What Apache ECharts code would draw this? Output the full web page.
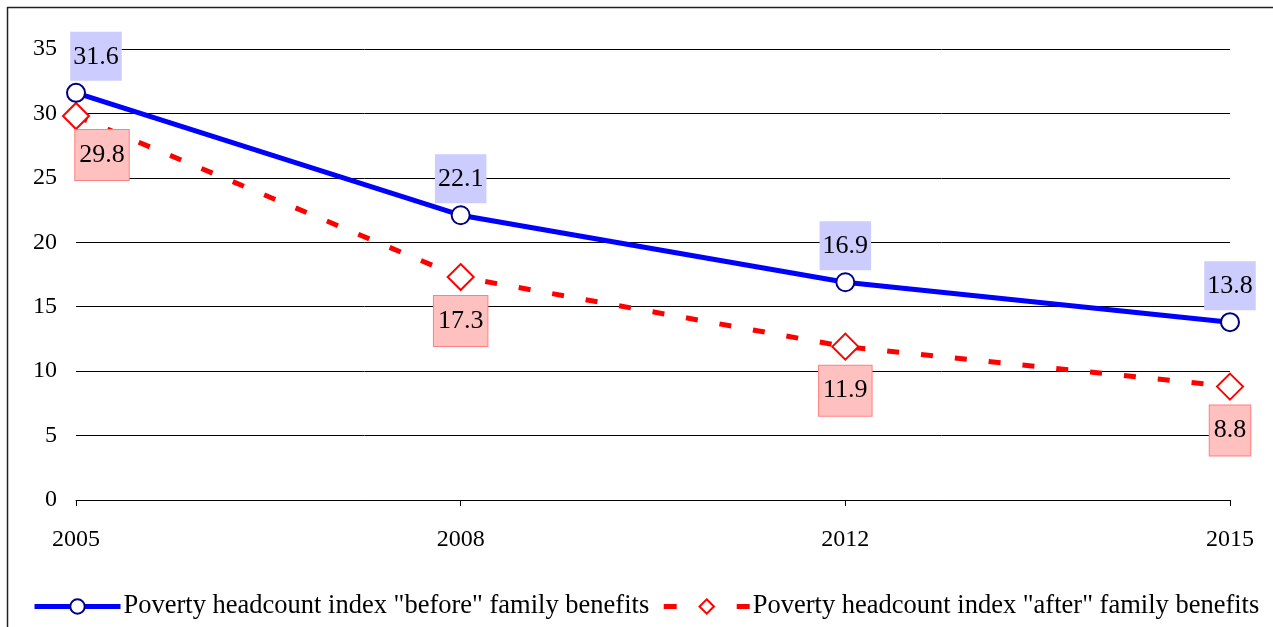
<!DOCTYPE html>
<html>
<head>
<meta charset="utf-8">
<script src="https://cdn.jsdelivr.net/npm/echarts@6/dist/echarts.min.js"></script>
<style>
  html, body { margin: 0; padding: 0; background: #fff; }
  #chart { width: 1273px; height: 627px; }
</style>
</head>
<body>
<div id="chart"></div>
<script>
// Survey years and poverty headcount index (%) before / after family benefits
const years = ['2005', '2008', '2012', '2015'];
const beforeBenefits = [31.6, 22.1, 16.9, 13.8];
const afterBenefits = [29.8, 17.3, 11.9, 8.8];
const yTicks = { min: 0, max: 35, interval: 5 };
const seriesNames = [
  'Poverty headcount index "before" family benefits',
  'Poverty headcount index "after" family benefits'
];

const FONT = '"Liberation Serif", "Times New Roman", serif';

// First-year labels are nudged right so they sit inside the frame
function withLabelOffsets(values, offset) {
  return values.map((v, i) => i === 0 ? { value: v, label: { offset: offset } } : v);
}

const chart = echarts.init(document.getElementById('chart'), null, { renderer: 'canvas' });

chart.setOption({
  backgroundColor: '#ffffff',
  animation: false,
  grid: { left: 76, right: 43, top: 49, bottom: 127, containLabel: false },
  xAxis: {
    type: 'category',
    data: years,
    boundaryGap: false,
    axisLine: { show: true, lineStyle: { color: '#000', width: 1 } },
    axisTick: { show: true, length: 6, lineStyle: { color: '#000' } },
    axisLabel: { color: '#000', fontFamily: FONT, fontSize: 24, margin: 28 },
    splitLine: { show: false }
  },
  yAxis: {
    type: 'value',
    min: yTicks.min,
    max: yTicks.max,
    interval: yTicks.interval,
    axisLine: { show: false },
    axisTick: { show: false },
    axisLabel: { color: '#000', fontFamily: FONT, fontSize: 24, margin: 19 },
    splitLine: { show: true, lineStyle: { color: '#000', width: 1 } }
  },
  legend: {
    bottom: 2,
    left: 27,
    itemWidth: 86,
    itemHeight: 18,
    itemGap: 12,
    textStyle: { color: '#000', fontFamily: FONT, fontSize: 26.5, padding: [0, 0, 0, -2] },
    data: [
      { name: seriesNames[0], lineStyle: { width: 5, color: '#0000ff' } },
      { name: seriesNames[1], lineStyle: { width: 5, color: '#ff0000', type: [13, 60] } }
    ]
  },
  series: [
    {
      name: seriesNames[0],
      type: 'line',
      data: withLabelOffsets(beforeBenefits, [20, 0]),
      symbol: 'circle',
      symbolSize: 18,
      showAllSymbol: true,
      lineStyle: { color: '#0000ff', width: 5 },
      itemStyle: { color: '#ffffff', borderColor: '#000080', borderWidth: 2 },
      z: 3,
      label: {
        show: true,
        position: 'top',
        distance: 2,
        color: '#000',
        fontFamily: FONT,
        fontSize: 26,
        backgroundColor: '#ccccff',
        padding: [12, 3, 11, 3]
      }
    },
    {
      name: seriesNames[1],
      type: 'line',
      data: withLabelOffsets(afterBenefits, [26, -5]),
      symbol: 'diamond',
      symbolSize: [26, 26],
      showAllSymbol: true,
      lineStyle: { color: '#ff0000', width: 5, type: [12, 22] },
      itemStyle: { color: '#ffffff', borderColor: '#ff0000', borderWidth: 2 },
      z: 2,
      label: {
        show: true,
        position: 'bottom',
        distance: 5,
        color: '#000',
        fontFamily: FONT,
        fontSize: 26,
        backgroundColor: '#ffc0c0',
        borderColor: '#ff8080',
        borderWidth: 1,
        padding: [12, 4, 12, 4]
      }
    }
  ],
  graphic: [
    { type: 'line', shape: { x1: 7.5, y1: 7, x2: 7.5, y2: 627 }, style: { stroke: '#222', lineWidth: 1.5 }, silent: true },
    { type: 'line', shape: { x1: 7, y1: 7.5, x2: 1273, y2: 7.5 }, style: { stroke: '#222', lineWidth: 1.5 }, silent: true }
  ]
});
</script>
</body>
</html>
